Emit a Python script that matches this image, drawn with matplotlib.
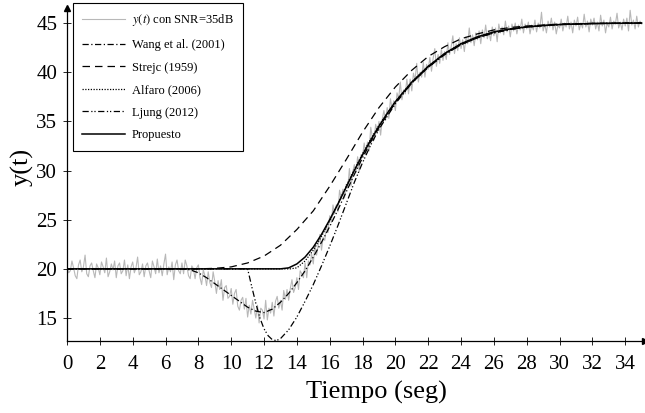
import numpy as np
import matplotlib
matplotlib.use('Agg')
import matplotlib.pyplot as plt

plt.rcParams['font.family'] = ['Liberation Serif', 'DejaVu Serif']
plt.rcParams['mathtext.fontset'] = 'stix'

# señal medida y(t) con ruido, muestreada cada 0.1 s (0 .. 35 s)
dt_med = 0.1
y_med = [
    20.3, 19.6, 19.8, 20.8, 20.1, 19.3, 19.0, 20.4, 20.9, 19.7,
    20.2, 21.4, 19.5, 19.2, 20.3, 20.6, 19.8, 19.1, 20.5, 20.1,
    19.4, 20.7, 20.2, 19.6, 21.1, 19.2, 19.7, 20.5, 19.9, 20.8,
    19.1, 20.3, 20.6, 19.5, 19.8, 20.9, 19.3, 20.4, 19.0, 20.2,
    20.7, 19.6, 20.1, 21.2, 19.4, 19.7, 20.5, 19.2, 20.3, 20.6,
    19.8, 19.1, 20.8, 20.2, 19.5, 21.0, 19.6, 20.3, 19.3, 20.5,
    21.5, 19.4, 20.2, 19.7, 20.7, 18.9, 20.4, 20.9, 19.8, 19.5,
    20.6, 19.5, 20.9, 20.3, 19.3, 19.0, 20.3, 20.0, 19.0, 20.1,
    20.4, 19.1, 18.4, 19.9, 19.3, 18.3, 19.7, 18.6, 18.1, 19.7,
    18.7, 17.5, 18.8, 17.9, 18.9, 16.8, 18.1, 18.3, 17.0, 17.2,
    18.0, 16.4, 17.5, 17.9, 16.2, 15.8, 16.8, 17.1, 15.9, 17.0,
    15.1, 16.3, 15.4, 16.8, 15.9, 15.0, 16.3, 14.5, 16.0, 15.8,
    14.9, 16.8, 14.8, 16.0, 15.5, 16.6, 15.2, 16.7, 17.2, 16.0,
    16.8, 15.8, 17.8, 16.9, 17.9, 16.8, 18.0, 18.9, 17.6, 18.1,
    19.1, 17.9, 19.8, 19.5, 19.1, 20.6, 19.1, 20.8, 20.4, 21.5,
    20.5, 22.4, 21.4, 22.4, 23.5, 21.9, 23.2, 22.9, 24.4, 23.7,
    25.4, 24.7, 26.5, 25.6, 26.5, 25.8, 28.0, 27.1, 28.1, 27.2,
    28.6, 28.2, 30.2, 28.4, 29.8, 30.6, 29.8, 31.4, 29.9, 31.6,
    31.4, 32.8, 31.6, 32.9, 32.0, 34.4, 33.4, 33.1, 34.7, 33.9,
    35.0, 33.6, 35.2, 36.1, 35.1, 36.4, 35.3, 37.3, 36.3, 37.1,
    36.1, 37.9, 37.3, 39.0, 37.2, 38.2, 37.8, 39.3, 37.8, 39.3,
    38.1, 39.9, 39.2, 40.9, 39.0, 40.0, 39.5, 41.0, 39.5, 40.8,
    40.3, 41.5, 40.1, 41.4, 42.4, 40.6, 41.8, 40.9, 42.3, 41.2,
    42.1, 41.3, 43.0, 41.8, 42.6, 43.7, 41.9, 42.9, 42.2, 43.5,
    42.4, 43.3, 42.1, 43.6, 42.9, 44.5, 43.0, 43.8, 42.7, 44.0,
    43.3, 44.2, 42.9, 44.3, 43.5, 44.8, 43.4, 44.1, 43.2, 44.6,
    43.7, 44.5, 43.1, 44.9, 44.0, 44.6, 43.8, 45.2, 44.1, 44.7,
    43.6, 44.9, 44.2, 45.0, 43.9, 44.8, 44.3, 45.4, 44.0, 44.9,
    44.4, 45.1, 43.9, 44.8, 44.3, 45.3, 44.1, 45.0, 44.5, 46.1,
    44.2, 44.9, 44.0, 45.2, 44.6, 45.5, 44.3, 45.1, 43.9, 44.8,
    44.5, 45.4, 44.2, 45.0, 44.6, 45.7, 44.4, 45.1, 44.0, 45.3,
    44.7, 45.6, 44.3, 45.0, 44.5, 45.9, 44.6, 45.2, 44.1, 45.4,
    44.8, 45.5, 44.4, 45.1, 44.2, 45.8, 44.7, 45.3, 44.0, 45.0,
    44.6, 45.6, 44.4, 45.2, 44.9, 46.0, 44.5, 45.1, 44.3, 45.4,
    44.7, 45.5, 44.2, 46.3, 44.8, 45.3, 44.4, 45.7, 44.6, 45.2,
    44.9,
]

# Wang et al. (2001)
t_wang = [0, 7.0, 7.5, 8.0, 8.5, 9.0, 9.5, 10.0, 10.5, 11.0, 11.5, 12.0, 12.5,
          13.0, 13.5, 14.0, 14.5, 15.0, 15.5, 16.0, 16.5, 17.0, 17.5, 18.0,
          18.5, 19.0, 20.0, 21.0, 22.0, 23.0, 24.0, 25.0, 26.0, 27.0, 28.0,
          30.0, 32.0, 35.0]
y_wang = [20, 20.0, 19.9, 19.6, 19.1, 18.5, 17.9, 17.3, 16.7, 16.1, 15.7, 15.55,
          15.9, 16.6, 17.5, 18.6, 19.8, 21.2, 22.7, 24.3, 26.0, 27.8, 29.6, 31.3,
          32.9, 34.4, 36.9, 38.9, 40.5, 41.8, 42.8, 43.5, 44.0, 44.35, 44.6,
          44.85, 44.95, 45.0]

# Strejc (1959)
t_strejc = [0, 8.0, 9.0, 10.0, 11.0, 12.0, 13.0, 14.0, 15.0, 16.0, 17.0, 18.0,
            19.0, 20.0, 21.0, 22.0, 23.0, 24.0, 25.0, 26.0, 27.0, 28.0, 30.0,
            32.0, 35.0]
y_strejc = [20, 20.0, 20.05, 20.2, 20.6, 21.3, 22.4, 24.0, 25.9, 28.4, 31.1,
            33.9, 36.4, 38.5, 40.2, 41.6, 42.6, 43.4, 43.9, 44.3, 44.55, 44.7,
            44.9, 44.97, 45.0]

# Alfaro (2006)
t_alfaro = [0, 13.6, 14.0, 14.5, 15.0, 15.5, 16.0, 16.5, 17.0, 17.5, 18.0, 18.5,
            19.0, 20.0, 21.0, 22.0, 23.0, 24.0, 25.0, 26.0, 27.0, 28.0, 30.0,
            32.0, 35.0]
y_alfaro = [20, 20.0, 20.1, 20.8, 21.9, 23.3, 24.9, 26.6, 28.4, 30.1, 31.7, 33.2,
            34.6, 37.0, 39.0, 40.6, 41.9, 42.9, 43.6, 44.1, 44.4, 44.65, 44.85,
            44.95, 45.0]

# Ljung (2012)
t_ljung = [0, 11.0, 11.25, 11.5, 11.75, 12.0, 12.25, 12.5, 12.75, 13.0, 13.5,
           14.0, 14.5, 15.0, 15.5, 16.0, 16.5, 17.0, 17.5, 18.0, 18.5, 19.0,
           20.0, 21.0, 22.0, 23.0, 24.0, 25.0, 26.0, 27.0, 28.0, 30.0, 32.0, 35.0]
y_ljung = [20, 20.0, 18.2, 16.5, 15.0, 13.9, 13.2, 12.8, 12.7, 12.9, 13.8,
           15.1, 16.7, 18.4, 20.3, 22.3, 24.4, 26.6, 28.8, 30.8, 32.6, 34.2,
           36.8, 38.9, 40.5, 41.8, 42.8, 43.5, 44.0, 44.35, 44.6, 44.85, 44.95,
           45.0]

# Propuesto
t_prop = [0, 13.0, 13.5, 14.0, 14.5, 15.0, 15.5, 16.0, 16.5, 17.0, 17.5, 18.0,
          18.5, 19.0, 19.5, 20.0, 21.0, 22.0, 23.0, 24.0, 25.0, 26.0, 27.0, 28.0,
          29.0, 30.0, 32.0, 35.0]
y_prop = [20, 20.0, 20.1, 20.5, 21.2, 22.2, 23.5, 25.0, 26.6, 28.3, 30.0, 31.6,
          33.1, 34.5, 35.8, 37.0, 39.0, 40.6, 41.9, 42.9, 43.6, 44.1, 44.4, 44.6,
          44.75, 44.85, 44.95, 45.0]

x_ticks = list(range(0, 35, 2))
y_ticks = [15, 20, 25, 30, 35, 40, 45]

fig = plt.figure(figsize=(6.45, 4.13), dpi=100)
ax = fig.add_axes([0.1039, 0.1743, 0.896, 0.8063])

t_med = np.arange(len(y_med)) * dt_med
ax.plot(t_med, y_med, color='#b8b8b8', lw=0.8, label=r'$y(t)$ con SNR=35dB', zorder=1)
ax.plot(t_wang, y_wang, color='black', lw=0.9, ls=(0, (5, 2, 1, 2)),
        label='Wang et al. (2001)', zorder=3)
ax.plot(t_strejc, y_strejc, color='black', lw=0.9, ls=(0, (6, 4)),
        label='Strejc (1959)', zorder=3)
ax.plot(t_alfaro, y_alfaro, color='black', lw=0.9, ls=(0, (1, 1.2)),
        label='Alfaro (2006)', zorder=3)
ax.plot(t_ljung, y_ljung, color='black', lw=0.9, ls=(0, (5, 2, 1, 1.5, 1, 2)),
        label='Ljung (2012)', zorder=3)
ax.plot(t_prop, y_prop, color='black', lw=1.1, label='Propuesto', zorder=4)

ax.set_xlim(0, 35.2)
ax.set_ylim(12.66, 46.53)
ax.set_xticks(x_ticks)
ax.set_yticks(y_ticks)
ax.tick_params(direction='inout', length=6, width=0.6, labelsize=15)
ax.tick_params(axis='x', pad=7)
ax.tick_params(axis='y', pad=4)

for s in ['top', 'right']:
    ax.spines[s].set_visible(False)
for s in ['left', 'bottom']:
    ax.spines[s].set_linewidth(0.9)

# flechas en los ejes
ax.plot(1, 0, marker='>', color='black', ms=4, transform=ax.transAxes, clip_on=False)
ax.plot(0, 1, marker='^', color='black', ms=4, transform=ax.transAxes, clip_on=False)

ax.set_xlabel('Tiempo (seg)', fontsize=19, va='center')
ax.xaxis.set_label_coords(0.536, -0.153)
ax.set_ylabel('y(t)', fontsize=19, va='center')
ax.yaxis.set_label_coords(-0.078, 0.523)

leg = ax.legend(loc='upper left', bbox_to_anchor=(0.113, 0.993),
                bbox_transform=fig.transFigure, fontsize=9, frameon=True,
                fancybox=False, framealpha=1, edgecolor='black',
                handlelength=3.4, labelspacing=0.85, borderpad=0.75,
                handletextpad=0.55, borderaxespad=0)
leg.get_frame().set_linewidth(0.8)

fig.savefig('out.png', dpi=100)
